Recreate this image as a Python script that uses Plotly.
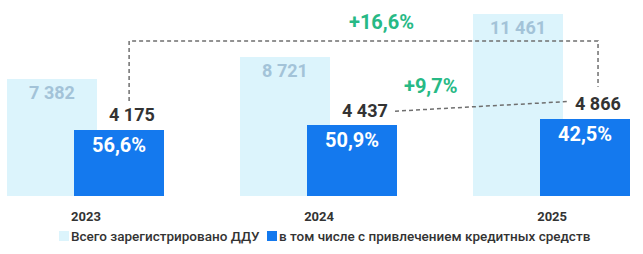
import plotly.graph_objects as go

years = ["2023", "2024", "2025"]
total_ddu = [7382, 8721, 11461]
credit_ddu = [4175, 4437, 4866]
credit_share = ["56,6%", "50,9%", "42,5%"]
growth_labels = ["+16,6%", "+9,7%"]
legend_names = ["Всего зарегистрировано ДДУ", "в том числе с привлечением кредитных средств"]

light = "#dcf4fc"
dark = "#1479ee"
green = "#27b985"
grey = "#6f6f6f"
font = "Roboto"

W = 0.386
fig = go.Figure()
fig.add_trace(go.Bar(
    x=years, y=total_ddu, name=legend_names[0],
    marker=dict(color=light, line=dict(width=0)), width=W, offset=-0.339,
    text=[f"{v:,}".replace(",", " ") for v in total_ddu], textposition="inside",
    insidetextanchor="end", textangle=0,
    textfont=dict(family=font, size=18, color="#a3c3d8", weight="bold"),
    hoverinfo="skip", showlegend=False,
))
fig.add_trace(go.Bar(
    x=years, y=credit_ddu, name=legend_names[1],
    marker=dict(color=dark, line=dict(width=0)), width=W, offset=-0.052,
    text=credit_share, textposition="inside", insidetextanchor="end", textangle=0,
    textfont=dict(family=font, size=20, color="white", weight="bold"),
    hoverinfo="skip", showlegend=False,
))

# value labels above dark bars
for i, v in enumerate(credit_ddu):
    fig.add_annotation(x=i + 0.197, y=v, yshift=15, xref="x", yref="y",
                       text=f"{v:,}".replace(",", " "), showarrow=False,
                       font=dict(family=font, size=18, color="#333333", weight="bold"))

# dashed connectors (data coordinates)
line_style = dict(color=grey, width=1.5, dash="4px,3px")
fig.add_shape(type="path", xref="x", yref="y",
              path=f"M 0.185 {credit_ddu[0] + 1800} L 0.185 9750 L 2.197 9750 L 2.197 {credit_ddu[2] + 2000}",
              line=line_style)
fig.add_shape(type="line", xref="x", yref="y",
              x0=1.326, y0=credit_ddu[1] + 900, x1=2.07, y1=credit_ddu[2] + 1080,
              line=line_style)
fig.add_trace(go.Scatter(x=[2.197], y=[credit_ddu[2] + 1930], mode="markers",
                         marker=dict(symbol="triangle-down", size=7, color=grey),
                         showlegend=False, hoverinfo="skip"))
fig.add_trace(go.Scatter(x=[2.083], y=[credit_ddu[2] + 1085], mode="markers",
                         marker=dict(symbol="triangle-right", size=7, color=grey),
                         showlegend=False, hoverinfo="skip"))

fig.add_annotation(x=1.27, y=10970, xref="x", yref="y", text=growth_labels[0], showarrow=False,
                   font=dict(family=font, size=20, color=green, weight="bold"))
fig.add_annotation(x=1.48, y=6900, xref="x", yref="y", text=growth_labels[1], showarrow=False,
                   font=dict(family=font, size=20, color=green, weight="bold"))

# compact legend drawn manually (paper coordinates)
leg_items = [(legend_names[0], light, 59 / 643), (legend_names[1], dark, 267 / 643)]
for name, col, x0 in leg_items:
    fig.add_shape(type="rect", xref="paper", yref="paper",
                  x0=x0, x1=x0 + 10 / 643, y0=-(231 - 196) / 196 - 10 / 196, y1=-(231 - 196) / 196,
                  fillcolor=col, line=dict(width=0))
    fig.add_annotation(x=x0 + 10 / 643, y=-(236 - 196) / 196, xref="paper", yref="paper",
                       xanchor="left", yanchor="middle", text=name, showarrow=False,
                       font=dict(family=font, size=13.5, color="#333333", weight=500))

fig.update_layout(
    width=643, height=254,
    margin=dict(l=0, r=0, t=0, b=58, autoexpand=False),
    paper_bgcolor="white", plot_bgcolor="white",
    barmode="overlay", bargap=0,
    showlegend=False,
    xaxis=dict(range=[-0.369, 2.39], showgrid=False, zeroline=False, showline=False,
               ticks="", ticklabelstandoff=11,
               tickfont=dict(family=font, size=13, color="#333333", weight="bold"),
               fixedrange=True),
    yaxis=dict(range=[0, 12330], visible=False, fixedrange=True),
)
fig.write_html("out.html")
